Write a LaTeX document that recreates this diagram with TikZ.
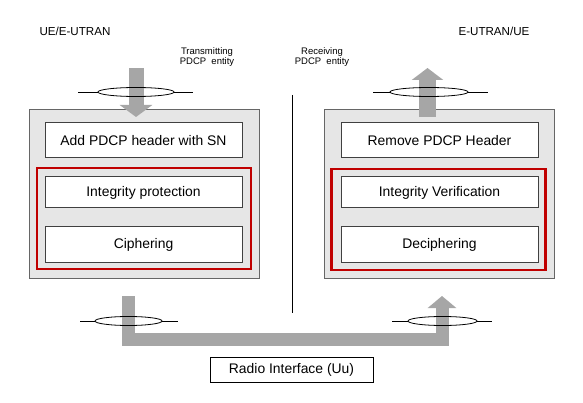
\documentclass[tikz,border=0pt]{standalone}
\usepackage{fontspec}
\setmainfont{Liberation Sans}
\usetikzlibrary{arrows.meta,shapes.geometric}
\definecolor{entgray}{HTML}{E6E6E6}
\definecolor{secred}{HTML}{C00000}
\definecolor{flowgray}{HTML}{A6A6A6}

\begin{document}
\begin{tikzpicture}[x=1pt,y=-1pt,
  entity/.style={draw=black!60,fill=entgray,line width=1pt,minimum width=230pt,minimum height=168pt,inner sep=0pt},
  func/.style={draw=black!75,fill=white,line width=1pt,minimum width=197pt,inner sep=0pt,font=\fontsize{13.9}{16}\selectfont},
  secbox/.style={draw=secred,line width=2.5pt,minimum width=214pt,minimum height=101pt,inner sep=0pt},
  ring/.style={draw,ellipse,minimum height=9pt,inner sep=0pt,line width=0.8pt},
  flow/.style={draw=flowgray,line width=15pt,line join=miter},
  small/.style={font=\fontsize{9.5}{10}\selectfont,align=center}]
  \useasboundingbox (0,0) rectangle (583,403);

  % titles
  \node[font=\fontsize{11.6}{13}\selectfont] (ue) at (75,31) {UE/E-UTRAN};
  \node[font=\fontsize{11.6}{13}\selectfont] (enb) at (494,31) {E-UTRAN/UE};
  \node[small] (txlab) at (207,57) {Transmitting\\PDCP\ \ entity};
  \node[small] (rxlab) at (322,57) {Receiving\\PDCP\ \ entity};

  % entities
  \node[entity] (txent) at (144,194) {};
  \node[entity] (rxent) at (439,194) {};
  \node[secbox] (txsec) at (144,218.5) {};
  \node[secbox] (rxsec) at (438.5,219.5) {};
  \node[func,minimum height=35pt] (hdradd) at (143.5,140.5) {Add PDCP header with SN};
  \node[func,minimum height=31pt] (intprot) at (143.5,192.5) {Integrity protection};
  \node[func,minimum height=35pt] (ciph) at (143.5,244.5) {Ciphering};
  \node[func,minimum height=35pt] (hdrrem) at (439.5,140.5) {Remove PDCP Header};
  \node[func,minimum height=31pt] (intver) at (439.5,192.5) {Integrity Verification};
  \node[func,minimum height=35pt] (deciph) at (439.5,244.5) {Deciphering};
  \node[draw,line width=1pt,minimum width=163pt,minimum height=25pt,inner sep=0pt,font=\fontsize{13.9}{16}\selectfont] (uu) at (291.5,369.5) {Radio Interface (Uu)};

  % separator
  \coordinate (sept) at (292,95);
  \coordinate (sepb) at (292,313);
  \draw[line width=0.8pt] (sept) -- (sepb);

  % data flow
  \coordinate (txin) at (136,68);
  \coordinate (txtip) at (136,117);
  \coordinate (rxin) at (427.5,117);
  \coordinate (rxtip) at (427.5,68);
  \coordinate (txout) at (128,296);
  \coordinate (rxup) at (442,296);
  \draw[flow,-{Triangle[width=32pt,length=12pt]}] (txin) -- (txtip);
  \draw[flow,line width=17pt,-{Triangle[width=31pt,length=12pt]}] (rxin) -- (rxtip);
  \draw[flow,line width=13pt,-{Triangle[width=28pt,length=12pt]}] (txout) -- (128,339) -- (442,339) -- (rxup);

  % SAPs
  \node[ring,minimum width=76pt] (txsap) at (136,92) {};
  \node[ring,minimum width=78pt] (rxsap) at (429,92) {};
  \node[ring,minimum width=67pt] (txphy) at (128.5,321) {};
  \node[ring,minimum width=69pt] (rxphy) at (442.5,321) {};
  \draw[line width=0.8pt] (txsap.west) -- ++(-20,0) (txsap.east) -- ++(19,0);
  \draw[line width=0.8pt] (rxsap.west) -- ++(-17,0) (rxsap.east) -- ++(20,0);
  \draw[line width=0.8pt] (txphy.west) -- ++(-15,0) (txphy.east) -- ++(16,0);
  \draw[line width=0.8pt] (rxphy.west) -- ++(-16,0) (rxphy.east) -- ++(15,0);
\end{tikzpicture}
\end{document}
